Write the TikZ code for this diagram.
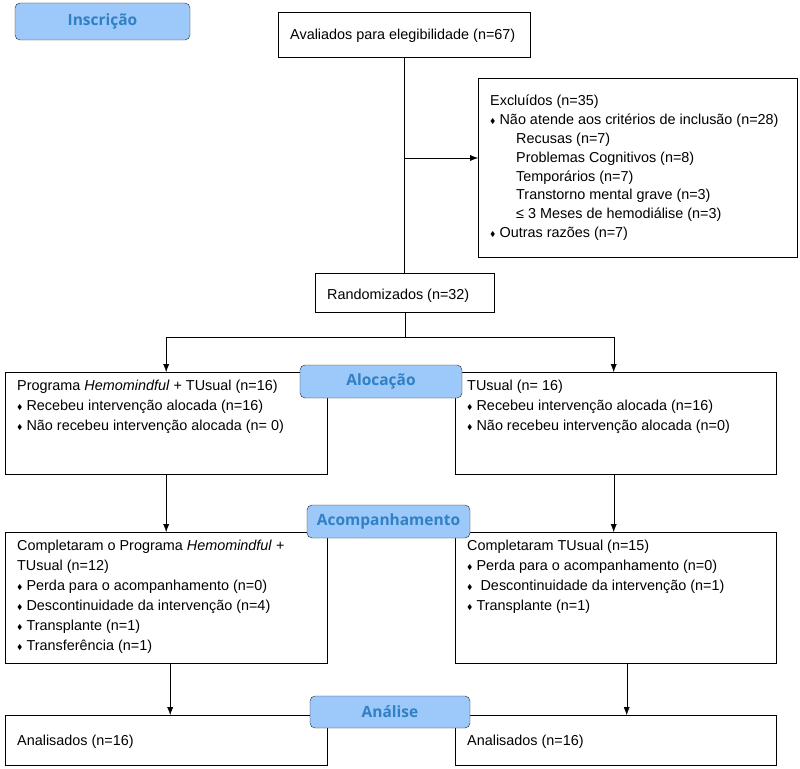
\documentclass[tikz,border=0pt]{standalone}
\usepackage{amssymb}
\usepackage{fontspec}
\setmainfont{Liberation Sans}
\newfontfamily\headfont{Open Sans}
\usetikzlibrary{arrows.meta, positioning}
\definecolor{headfill}{HTML}{9DC8FA}
\definecolor{headtext}{HTML}{2F80C4}
\newcommand{\cell}[4]{\parbox[c][#2pt][t]{#1pt}{\vspace*{#3pt}#4}}
\newcommand{\bul}{\raisebox{1pt}{\scriptsize$\blacklozenge$}\ }
\newcommand{\subind}{\hspace*{26pt}}

\begin{document}
\begin{tikzpicture}[x=1pt, y=-1pt,
    box/.style={draw, anchor=north west, inner xsep=12pt, inner ysep=0pt,
      font=\fontsize{14.4}{20}\selectfont, align=left},
    head/.style={draw=black!85, rounded corners=5pt, fill=headfill,
      text=headtext, font=\headfont\bfseries\fontsize{15.5}{18}\selectfont,
      inner sep=0pt},
    arr/.style={-{Latex[length=8pt,width=6pt]}}]
  \useasboundingbox (0,0) rectangle (800,768);

  % BOXES
  \node[box] (aval) at (278,12) {\cell{228}{45}{17}{Avaliados para elegibilidade (n=67)}};

  \node[box] (excl) at (478,78) {\cell{295}{179}{17}{\fontsize{14.4}{18.8}\selectfont
    Excluídos (n=35)\\
    \bul Não atende aos critérios de inclusão (n=28)\\
    \subind Recusas (n=7)\\
    \subind Problemas Cognitivos (n=8)\\
    \subind Temporários (n=7)\\
    \subind Transtorno mental grave (n=3)\\
    \subind ≤ 3 Meses de hemodiálise (n=3)\\
    \bul Outras razões (n=7)}};

  \node[box] (rand) at (315,273) {\cell{155}{39}{16}{Randomizados (n=32)}};

  \node[box] (allocL) at (5,372) {\cell{298}{102}{8}{
    Programa \emph{Hemomindful} + TUsual (n=16)\\
    \bul Recebeu intervenção alocada (n=16)\\
    \bul Não recebeu intervenção alocada (n= 0)}};

  \node[box] (allocR) at (455,372) {\cell{297}{102}{8}{
    TUsual (n= 16)\\
    \bul Recebeu intervenção alocada (n=16)\\
    \bul Não recebeu intervenção alocada (n=0)}};

  \node[box] (followL) at (5,532) {\cell{298}{131}{8}{
    Completaram o Programa \emph{Hemomindful} +\\
    TUsual (n=12)\\
    \bul Perda para o acompanhamento (n=0)\\
    \bul Descontinuidade da intervenção (n=4)\\
    \bul Transplante (n=1)\\
    \bul Transferência (n=1)}};

  \node[box] (followR) at (455,532) {\cell{297}{131}{8}{
    Completaram TUsual (n=15)\\
    \bul Perda para o acompanhamento (n=0)\\
    \bul\ Descontinuidade da intervenção (n=1)\\
    \bul Transplante (n=1)}};

  \node[box] (analL) at (5,715) {\cell{298}{50}{20}{Analisados (n=16)}};
  \node[box] (analR) at (455,715) {\cell{297}{50}{20}{Analisados (n=16)}};

  % CONNECTORS
  \coordinate (exclsplit) at (aval.south |- 0,158);
  \draw (aval.south) -- (aval.south |- rand.north);
  \draw[arr] (exclsplit) -- (exclsplit -| excl.west);

  \draw (rand.south) -- ++(0,25) coordinate (randsplit);
  \draw[arr] (randsplit) -| (allocL.north);
  \draw[arr] (randsplit) -| ([xshift=-2pt]allocR.north);

  \draw[arr] (allocL.south) -- (followL.north);
  \draw[arr] ([xshift=-2pt]allocR.south) -- ([xshift=-2pt]followR.north);
  \draw[arr] ([xshift=4pt]followL.south) -- ([xshift=4pt]analL.north);
  \draw[arr] ([xshift=11pt]followR.south) -- ([xshift=11pt]analR.north);

  % HEADERS
  \node[head, minimum width=175pt, minimum height=37pt] (insc) at (102.5,21.5) {Inscrição};
  \node[head, minimum width=162pt, minimum height=33pt] (aloc) at (381,381.5) {Alocação};
  \node[head, minimum width=163pt, minimum height=33pt] (acomp) at (388.5,521.5) {Acompanhamento};
  \node[head, minimum width=160pt, minimum height=32pt] (anal) at (390,712) {Análise};
\end{tikzpicture}
\end{document}
